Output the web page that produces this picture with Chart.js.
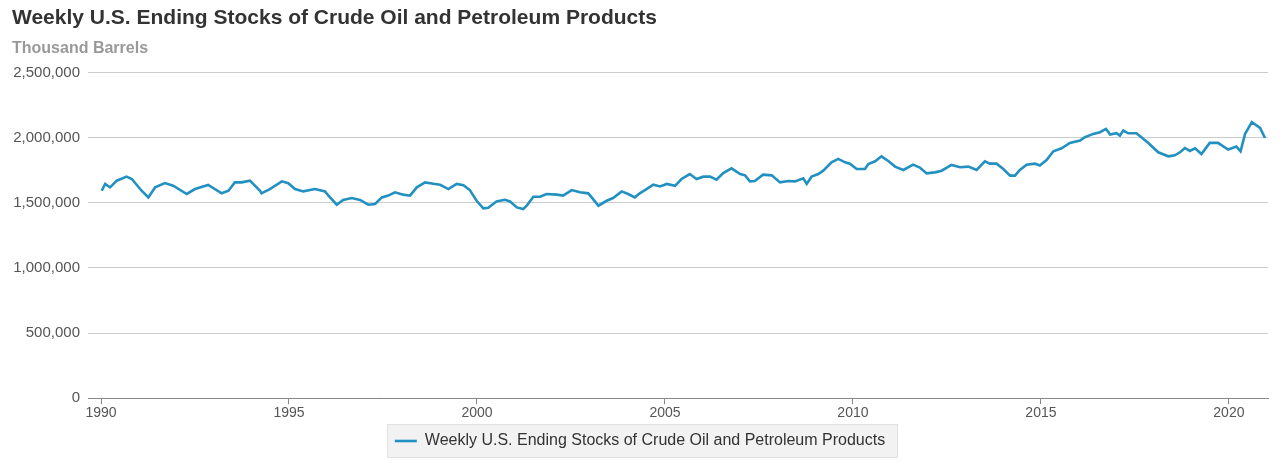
<!DOCTYPE html>
<html>
<head>
<meta charset="utf-8">
<script src="https://cdn.jsdelivr.net/npm/chart.js@4.4.1/dist/chart.umd.min.js"></script>
<style>
  html, body { margin: 0; padding: 0; background: #fff; }
  #wrap { width: 1280px; height: 464px; position: relative; }
</style>
</head>
<body>
<div id="wrap"><canvas id="c" width="1280" height="464"></canvas></div>
<script>
const chartTitle = 'Weekly U.S. Ending Stocks of Crude Oil and Petroleum Products';
const chartSubtitle = 'Thousand Barrels';
const seriesName = 'Weekly U.S. Ending Stocks of Crude Oil and Petroleum Products';
const xTickYears = [1990, 1995, 2000, 2005, 2010, 2015, 2020];
const yTickValues = [0, 500000, 1000000, 1500000, 2000000, 2500000];

const years = [
  1990.02, 1990.11, 1990.24, 1990.42, 1990.68, 1990.82, 1991.08, 1991.26, 1991.44, 1991.70,
  1991.92, 1992.28, 1992.50, 1992.85, 1993.21, 1993.39, 1993.56, 1993.74, 1993.96, 1994.23,
  1994.27, 1994.49, 1994.81, 1994.98, 1995.16, 1995.38, 1995.69, 1995.96, 1996.05, 1996.27,
  1996.44, 1996.67, 1996.89, 1997.11, 1997.29, 1997.47, 1997.64, 1997.82, 1998.04, 1998.22,
  1998.40, 1998.62, 1998.84, 1999.02, 1999.24, 1999.46, 1999.64, 1999.81, 1999.99, 2000.17,
  2000.30, 2000.52, 2000.74, 2000.88, 2001.06, 2001.23, 2001.33, 2001.50, 2001.68, 2001.85,
  2002.12, 2002.29, 2002.52, 2002.74, 2002.96, 2003.09, 2003.23, 2003.45, 2003.62, 2003.85,
  2004.02, 2004.20, 2004.33, 2004.51, 2004.69, 2004.87, 2005.05, 2005.27, 2005.44, 2005.66,
  2005.84, 2006.02, 2006.20, 2006.37, 2006.55, 2006.77, 2007.00, 2007.13, 2007.26, 2007.39,
  2007.61, 2007.84, 2008.06, 2008.28, 2008.46, 2008.68, 2008.77, 2008.90, 2009.08, 2009.21,
  2009.43, 2009.61, 2009.79, 2009.92, 2010.10, 2010.32, 2010.41, 2010.59, 2010.76, 2010.94,
  2011.12, 2011.34, 2011.60, 2011.78, 2011.96, 2012.18, 2012.36, 2012.62, 2012.85, 2013.07,
  2013.29, 2013.51, 2013.64, 2013.82, 2014.00, 2014.18, 2014.31, 2014.44, 2014.62, 2014.84,
  2014.97, 2015.15, 2015.33, 2015.55, 2015.77, 2016.04, 2016.17, 2016.39, 2016.57, 2016.73,
  2016.84, 2017.01, 2017.10, 2017.19, 2017.32, 2017.54, 2017.72, 2017.85, 2018.12, 2018.39,
  2018.56, 2018.70, 2018.83, 2018.96, 2019.10, 2019.27, 2019.49, 2019.71, 2019.98, 2020.20,
  2020.31, 2020.43, 2020.61, 2020.83, 2020.96
];

const stocks = [
  1592000, 1644000, 1618000, 1669000, 1700000, 1682000, 1592000, 1541000, 1618000, 1651000,
  1631000, 1567000, 1605000, 1636000, 1572000, 1592000, 1656000, 1656000, 1669000, 1592000,
  1572000, 1605000, 1664000, 1650000, 1605000, 1587000, 1605000, 1587000, 1554000, 1485000,
  1521000, 1536000, 1521000, 1485000, 1490000, 1541000, 1555000, 1580000, 1562000, 1554000,
  1618000, 1656000, 1645000, 1638000, 1605000, 1644000, 1635000, 1597000, 1515000, 1456000,
  1462000, 1510000, 1523000, 1510000, 1464000, 1451000, 1480000, 1546000, 1546000, 1567000,
  1562000, 1555000, 1597000, 1580000, 1572000, 1528000, 1477000, 1515000, 1536000, 1587000,
  1567000, 1541000, 1572000, 1605000, 1638000, 1625000, 1644000, 1630000, 1682000, 1720000,
  1682000, 1700000, 1700000, 1677000, 1728000, 1764000, 1720000, 1710000, 1664000, 1667000,
  1715000, 1710000, 1656000, 1667000, 1664000, 1687000, 1644000, 1700000, 1720000, 1746000,
  1810000, 1836000, 1810000, 1800000, 1759000, 1759000, 1797000, 1818000, 1856000, 1820000,
  1777000, 1751000, 1792000, 1770000, 1725000, 1733000, 1746000, 1790000, 1772000, 1777000,
  1751000, 1818000, 1800000, 1800000, 1759000, 1708000, 1708000, 1751000, 1792000, 1800000,
  1785000, 1828000, 1895000, 1918000, 1959000, 1977000, 2003000, 2028000, 2041000, 2067000,
  2023000, 2033000, 2015000, 2054000, 2033000, 2033000, 1990000, 1960000, 1887000, 1856000,
  1864000, 1887000, 1920000, 1897000, 1918000, 1874000, 1959000, 1959000, 1908000, 1931000,
  1895000, 2028000, 2118000, 2074000, 1997000
];

const FONT = "'Liberation Sans', Arial, Helvetica, sans-serif";
const LINE_COLOR = '#2290c0';

const legendBackground = {
  id: 'legendBackground',
  beforeDraw(chart) {
    const lg = chart.legend;
    if (!lg || !lg.legendHitBoxes || !lg.legendHitBoxes.length) return;
    const hb = lg.legendHitBoxes[0];
    const ctx = chart.ctx;
    const cy = hb.top + hb.height / 2;
    const x = Math.round(hb.left - 8) + 0.5;
    const y = Math.round(cy - 17) + 0.5;
    const w = Math.round(hb.width + 20);
    const h = 33;
    ctx.save();
    ctx.fillStyle = '#f2f2f2';
    ctx.strokeStyle = '#e2e2e2';
    ctx.lineWidth = 1;
    ctx.fillRect(x, y, w, h);
    ctx.strokeRect(x, y, w, h);
    ctx.restore();
  }
};

new Chart(document.getElementById('c'), {
  type: 'line',
  data: {
    datasets: [{
      label: seriesName,
      data: years.map((yr, i) => ({ x: yr, y: stocks[i] })),
      borderColor: LINE_COLOR,
      backgroundColor: LINE_COLOR,
      borderWidth: 2.6,
      pointRadius: 0,
      pointHoverRadius: 0,
      pointStyle: 'line',
      tension: 0,
      fill: false
    }]
  },
  options: {
    responsive: false,
    animation: false,
    devicePixelRatio: 1,
    layout: { padding: { left: 12, right: 12, top: 0, bottom: 5 } },
    plugins: {
      title: {
        display: true,
        text: chartTitle,
        align: 'start',
        color: '#333333',
        font: { family: FONT, size: 21, weight: 'bold', lineHeight: 1.2 },
        padding: { top: 6, bottom: 8 }
      },
      subtitle: {
        display: true,
        text: chartSubtitle,
        align: 'start',
        color: '#999999',
        font: { family: FONT, size: 16, weight: 'bold', lineHeight: 1.2 },
        padding: { top: 0, bottom: 14 }
      },
      legend: {
        display: true,
        position: 'bottom',
        align: 'center',
        labels: {
          usePointStyle: true,
          pointStyle: 'line',
          pointStyleWidth: 22,
          color: '#333333',
          font: { family: FONT, size: 16 },
          padding: 10
        }
      },
      tooltip: { enabled: false }
    },
    scales: {
      x: {
        type: 'linear',
        min: 1989.654,
        max: 2021.04,
        afterBuildTicks: (s) => { s.ticks = xTickYears.map(v => ({ value: v })); },
        ticks: {
          autoSkip: false,
          maxRotation: 0,
          color: '#555555',
          font: { family: FONT, size: 14 },
          padding: 1,
          callback: (v) => String(v)
        },
        grid: {
          drawOnChartArea: false,
          drawTicks: true,
          tickLength: 6,
          color: '#888888'
        },
        border: { display: true, color: '#888888', width: 1 }
      },
      y: {
        min: 0,
        max: 2500000,
        afterBuildTicks: (s) => { s.ticks = yTickValues.map(v => ({ value: v })); },
        afterFit: (s) => { s.width = 76; },
        ticks: {
          color: '#555555',
          font: { family: FONT, size: 15 },
          padding: 8,
          callback: (v) => Number(v).toLocaleString('en-US')
        },
        grid: {
          color: '#cccccc',
          drawTicks: false
        },
        border: { display: false }
      }
    }
  },
  plugins: [legendBackground]
});
</script>
</body>
</html>
